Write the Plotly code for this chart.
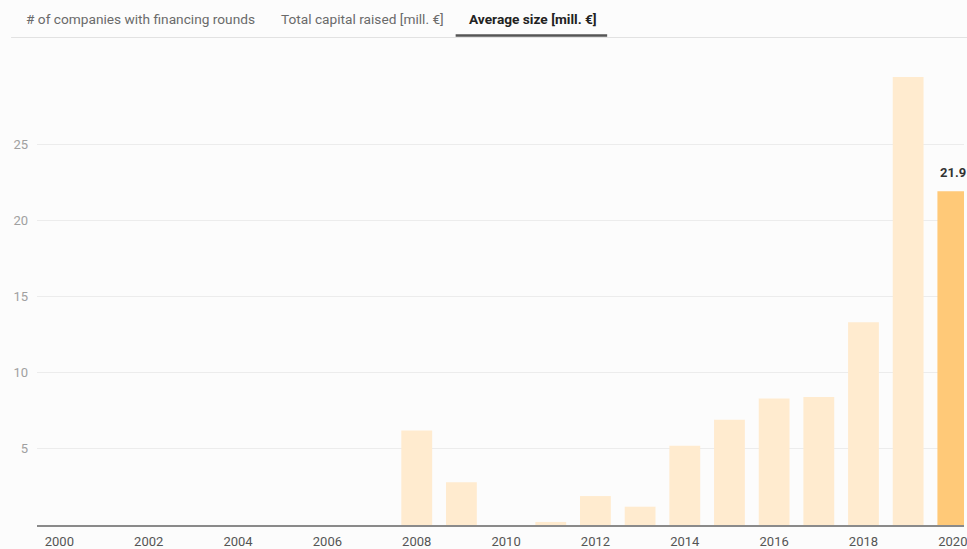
import plotly.graph_objects as go

# Average size of financing rounds per year [mill. €]
years = list(range(2000, 2021))
avg_size = [None, None, None, None, None, None, None, None,
            6.2, 2.8, None, 0.2, 1.9, 1.2, 5.2, 6.9, 8.3, 8.4, 13.3, 29.4, 21.9]
highlight_year = 2020

tab_labels = ["# of companies with financing rounds",
              "Total capital raised [mill. €]",
              "Average size [mill. €]"]
y_ticks = [5, 10, 15, 20, 25]
x_ticks = list(range(2000, 2021, 2))

LIGHT = "#ffebcf"
STRONG = "#ffc978"
FONT = "Roboto"

W, H = 967, 549
M_L, M_R, M_T, M_B = 37, 0, 45, 22


def px_x(px):
    return (px - M_L) / (W - M_L - M_R)


def px_y(py):
    return (H - M_B - py) / (H - M_T - M_B)


colors = [STRONG if y == highlight_year else LIGHT for y in years]

fig = go.Figure(go.Bar(
    x=years, y=avg_size,
    marker=dict(color=colors, line=dict(width=0)),
    hoverinfo="skip",
    cliponaxis=False,
))

hl_value = avg_size[years.index(highlight_year)]
annotations = [dict(
    x=highlight_year, y=hl_value, xref="x", yref="y",
    text=f"{hl_value}", showarrow=False, yanchor="bottom", yshift=9,
    font=dict(family=FONT, size=13, color="#333333", weight="bold"),
)]

# Tab bar above the chart
tab_x = [24, 280, 468]
for i, (lbl, tx) in enumerate(zip(tab_labels, tab_x)):
    active = i == 2
    annotations.append(dict(
        x=px_x(tx), y=px_y(19), xref="paper", yref="paper",
        text=lbl, showarrow=False, xanchor="left", yanchor="middle",
        font=dict(family=FONT, size=13.7,
                  color="#222222" if active else "#6a6a6a",
                  weight="bold" if active else "normal"),
    ))

shapes = [
    dict(type="line", xref="paper", yref="paper",
         x0=px_x(11), x1=px_x(W + 5), y0=px_y(37.5), y1=px_y(37.5),
         line=dict(color="#e2e2e2", width=1)),
    dict(type="line", xref="paper", yref="paper",
         x0=px_x(457), x1=px_x(609), y0=px_y(35.5), y1=px_y(35.5),
         line=dict(color="#555555", width=2.5)),
]

fig.update_layout(
    width=W, height=H,
    margin=dict(l=M_L, r=M_R, t=M_T, b=M_B, pad=0),
    paper_bgcolor="#fcfcfc", plot_bgcolor="#fcfcfc",
    bargap=0.31,
    showlegend=False,
    font=dict(family=FONT, size=13),
    annotations=annotations,
    shapes=shapes,
    xaxis=dict(
        range=[1999.5, 2020.25],
        tickvals=x_ticks, ticktext=[str(t) for t in x_ticks],
        tickfont=dict(family=FONT, size=13, color="#555555"),
        ticklabeloverflow="allow",
        showgrid=False, zeroline=False,
        showline=True, linecolor="#8a8a8a", linewidth=1.5,
        ticks="", ticklabelstandoff=4,
    ),
    yaxis=dict(
        range=[0, 31.5],
        tickvals=y_ticks, ticktext=[str(t) for t in y_ticks],
        tickfont=dict(family=FONT, size=13, color="#a0a0a0"),
        showgrid=True, gridcolor="#ececec", gridwidth=1,
        zeroline=False, showline=False, ticks="",
        ticklabelstandoff=8,
    ),
)

fig.write_html("out.html")
